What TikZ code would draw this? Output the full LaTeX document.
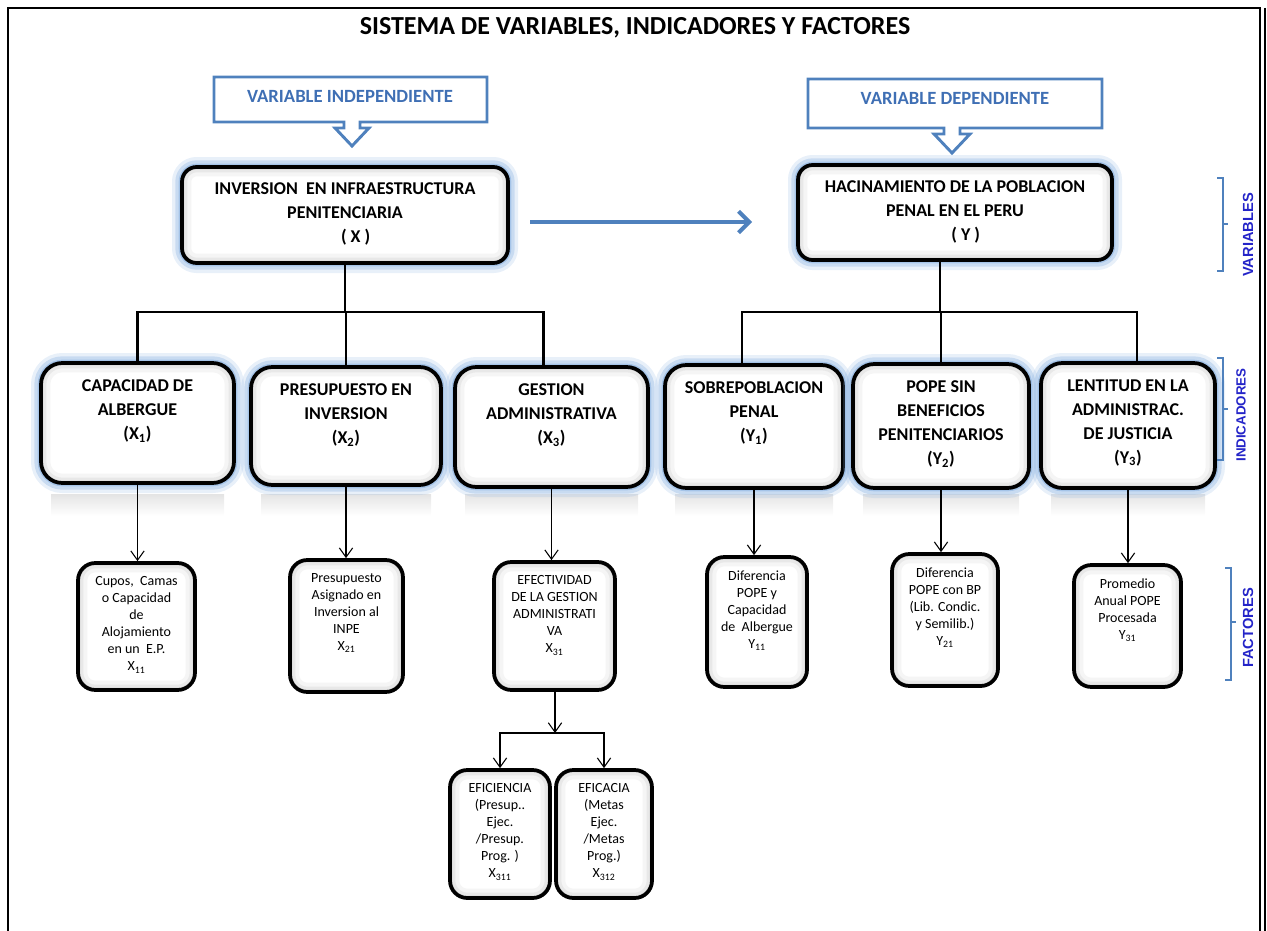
\documentclass[tikz,border=0pt]{standalone}
\usepackage{fontspec}
\setmainfont{Carlito}
\newfontfamily\arialfont{Liberation Sans}
\usetikzlibrary{positioning,fit,arrows.meta}
\definecolor{calblue}{HTML}{4F81BD}
\definecolor{glowblue}{HTML}{8DB4E2}
\definecolor{calltext}{HTML}{3F6FB4}
\definecolor{labblue}{HTML}{2424C8}
\tikzset{
  glow/.style={preaction={draw=glowblue,line width=15pt,opacity=.2},
               preaction={draw=glowblue,line width=10pt,opacity=.35},
               preaction={draw=glowblue,line width=5pt,opacity=.6}},
  inshade/.style={path picture={
      \draw[gray!8,line width=14pt,rounded corners=#1] (path picture bounding box.south west) rectangle (path picture bounding box.north east);
      \draw[gray!18,line width=8pt,rounded corners=#1] (path picture bounding box.south west) rectangle (path picture bounding box.north east);
      \draw[gray!35,line width=3.5pt,rounded corners=#1] (path picture bounding box.south west) rectangle (path picture bounding box.north east);}},
  mainbox/.style={draw,line width=2.8pt,fill=white,rounded corners=11pt,inner sep=0pt,glow,inshade=11pt},
  indbox/.style={draw,line width=2.8pt,fill=white,rounded corners=16pt,inner sep=0pt,glow,inshade=16pt},
  facbox/.style={draw,line width=2.8pt,fill=white,rounded corners=13pt,inner sep=0pt,inshade=13pt},
  maintxt/.style={font=\fontsize{13.5}{18}\selectfont\bfseries,align=center,inner sep=0pt},
  factxt/.style={font=\fontsize{10.5}{12.75}\selectfont,align=center,inner sep=0pt},
  calltxt/.style={font=\fontsize{14}{16}\selectfont\bfseries,text=calltext},
  callout/.style={draw=calblue,line width=2.2pt,line join=miter},
  sidelab/.style={font=\arialfont\bfseries\fontsize{11}{13}\selectfont,text=labblue,rotate=90},
  brk/.style={draw=calblue,line width=1.4pt},
  reflect/.style={top color=gray!35,bottom color=white,opacity=.6},
  tree/.style={line width=1.6pt},
  farrow/.style={line width=0.8pt,-{Straight Barb[length=7pt,width=10pt]}},
  bigarrow/.style={draw=calblue,line width=3pt,-{Straight Barb[length=8pt,width=16pt]}}
}
\begin{document}
\begin{tikzpicture}[x=0.75pt,y=-0.75pt]
  \useasboundingbox (0,0) rectangle (1267,931);
  % frame and title
  \draw[line width=2.2pt] (8,940) -- (8,8) -- (1260,8) -- (1260,940);
  \draw[line width=0.8pt] (1265,8) -- (1265,940);
  \node[font=\fontsize{19.5}{23}\selectfont\bfseries] (title) at (635,28) {SISTEMA DE VARIABLES, INDICADORES Y FACTORES};

  % callouts
  \draw[callout] (214,77) -- (487,77) -- (487,122) -- (360,122) -- (360,128) -- (369,128) -- (352,146)
    -- (335,128) -- (344,128) -- (344,122) -- (214,122) -- cycle;
  \node[calltxt] (vind) at (350,96) {VARIABLE INDEPENDIENTE};
  \draw[callout] (808,79) -- (1102,79) -- (1102,128) -- (960,128) -- (960,134) -- (970,134) -- (952,153)
    -- (934,134) -- (944,134) -- (944,128) -- (808,128) -- cycle;
  \node[calltxt] (vdep) at (955,98) {VARIABLE DEPENDIENTE};

  % variables
  \node[mainbox,fit={(182,167) (508,263)}] (bx) {};
  \node[maintxt,below=13pt of bx.north] (bxt) {INVERSION~ EN INFRAESTRUCTURA\\PENITENCIARIA\\\hspace*{16pt}( X )};
  \node[mainbox,fit={(798,165) (1112,260)}] (by) {};
  \node[maintxt,below=13pt of by.north] (byt) {HACINAMIENTO DE LA POBLACION\\PENAL EN EL PERU\\\hspace*{16pt}( Y )};
  \coordinate (arrA) at (530,222);
  \coordinate (arrB) at (752,222);
  \draw[bigarrow] (arrA) -- (arrB);

  % indicadores
  \foreach \a/\b in {41/234,251/441,455/648,665/843,853/1029,1041/1215}
    \shade[reflect] (\a+10,494) rectangle (\b-10,516);
  \node[indbox,fit={(41,363) (234,483)}] (x1) {};
  \node[indbox,fit={(251,367) (441,485)}] (x2) {};
  \node[indbox,fit={(455,367) (648,487)}] (x3) {};
  \node[indbox,fit={(665,365) (843,488)}] (y1) {};
  \node[indbox,fit={(853,364) (1029,488)}] (y2) {};
  \node[indbox,fit={(1041,363) (1215,488)}] (y3) {};
  \node[maintxt,below=13.5pt of x1.north] (x1t) {CAPACIDAD DE\\ALBERGUE\\(X\textsubscript{1})};
  \node[maintxt,below=13.5pt of x2.north] (x2t) {PRESUPUESTO EN\\INVERSION\\(X\textsubscript{2})};
  \node[maintxt,below=13.5pt of x3.north] (x3t) {GESTION\\ADMINISTRATIVA\\(X\textsubscript{3})};
  \node[maintxt,below=13.5pt of y1.north] (y1t) {SOBREPOBLACION\\PENAL\\(Y\textsubscript{1})};
  \node[maintxt,below=13.5pt of y2.north] (y2t) {POPE SIN\\BENEFICIOS\\PENITENCIARIOS\\(Y\textsubscript{2})};
  \node[maintxt,below=13.5pt of y3.north] (y3t) {LENTITUD EN LA\\ADMINISTRAC.\\DE JUSTICIA\\(Y\textsubscript{3})};

  \coordinate (xj) at (345,312);
  \coordinate (yj) at (940,312);
  \draw[tree] (bx.south -| xj) -- (xj);
  \draw[tree] (xj) -| (x1.north);
  \draw[tree] (xj) -| (x2.north);
  \draw[tree] (xj) -| ([xshift=-6pt]x3.north);
  \draw[tree] (by.south -| yj) -- (yj);
  \draw[tree] (yj) -| ([xshift=-9pt]y1.north);
  \draw[tree] (yj) -| (y2.north);
  \draw[tree] (yj) -| ([xshift=7pt]y3.north);

  % factores
  \node[facbox,fit={(78,563) (195,690)}] (x11) {};
  \node[facbox,fit={(290,560) (403,692)}] (x21) {};
  \node[facbox,fit={(494,562) (615,690)}] (x31) {};
  \node[facbox,fit={(707,557) (807,687)}] (y11) {};
  \node[facbox,fit={(892,554) (998,686)}] (y21) {};
  \node[facbox,fit={(1074,565) (1181,687)}] (y31) {};
  \node[facbox,fit={(450,770) (550,898)}] (x311) {};
  \node[facbox,fit={(556,770) (652,898)}] (x312) {};
  \node[factxt,below=11.5pt of x11.north] (x11t) {Cupos,~ Camas\\o Capacidad\\de\\Alojamiento\\en un~ E.P.\\X\textsubscript{11}};
  \node[factxt,below=11.5pt of x21.north] (x21t) {Presupuesto\\Asignado en\\Inversion al\\INPE\\X\textsubscript{21}};
  \node[factxt,below=11.5pt of x31.north] (x31t) {EFECTIVIDAD\\DE LA GESTION\\ADMINISTRATI\\VA\\X\textsubscript{31}};
  \node[factxt,below=11.5pt of y11.north] (y11t) {Diferencia\\POPE y\\Capacidad\\de~ Albergue\\Y\textsubscript{11}};
  \node[factxt,below=11.5pt of y21.north] (y21t) {Diferencia\\POPE con BP\\(Lib. Condic.\\y Semilib.)\\Y\textsubscript{21}};
  \node[factxt,below=11.5pt of y31.north] (y31t) {Promedio\\Anual POPE\\Procesada\\Y\textsubscript{31}};
  \node[factxt,below=11.5pt of x311.north] (x311t) {EFICIENCIA\\(Presup..\\Ejec.\\/Presup.\\Prog. )\\X\textsubscript{311}};
  \node[factxt,below=11.5pt of x312.north] (x312t) {EFICACIA\\(Metas\\Ejec.\\/Metas\\Prog.)\\X\textsubscript{312}};

  \draw[farrow] (x1.south) -- (x1.south |- x11.north);
  \draw[farrow] (x2.south) -- (x2.south |- x21.north);
  \draw[farrow] (x3.south) -- (x3.south |- x31.north);
  \draw[farrow] (y1.south) -- (y1.south |- y11.north);
  \draw[farrow] (y2.south) -- (y2.south |- y21.north);
  \draw[farrow] (y3.south) -- (y3.south |- y31.north);
  \coordinate (x3j) at (555,733);
  \draw[farrow] (x31.south -| x3j) -- (x3j);
  \draw[farrow] (x3j) -| (x311.north);
  \draw[farrow] (x3j) -| (x312.north);

  % side labels
  \draw[brk] (1217,178) -- (1223,178) -- (1223,271) -- (1217,271);
  \draw[brk] (1223,224) -- (1228,224);
  \node[sidelab] (lvar) at (1248,235) {VARIABLES};
  \draw[brk] (1217,358) -- (1223,358) -- (1223,460) -- (1217,460);
  \draw[brk] (1223,409) -- (1228,409);
  \node[sidelab,font=\arialfont\bfseries\fontsize{10}{12}\selectfont] (lind) at (1241,415) {INDICADORES};
  \draw[brk] (1225,568) -- (1231,568) -- (1231,680) -- (1225,680);
  \draw[brk] (1231,622) -- (1236,622);
  \node[sidelab] (lfac) at (1248,628) {FACTORES};
\end{tikzpicture}
\end{document}
